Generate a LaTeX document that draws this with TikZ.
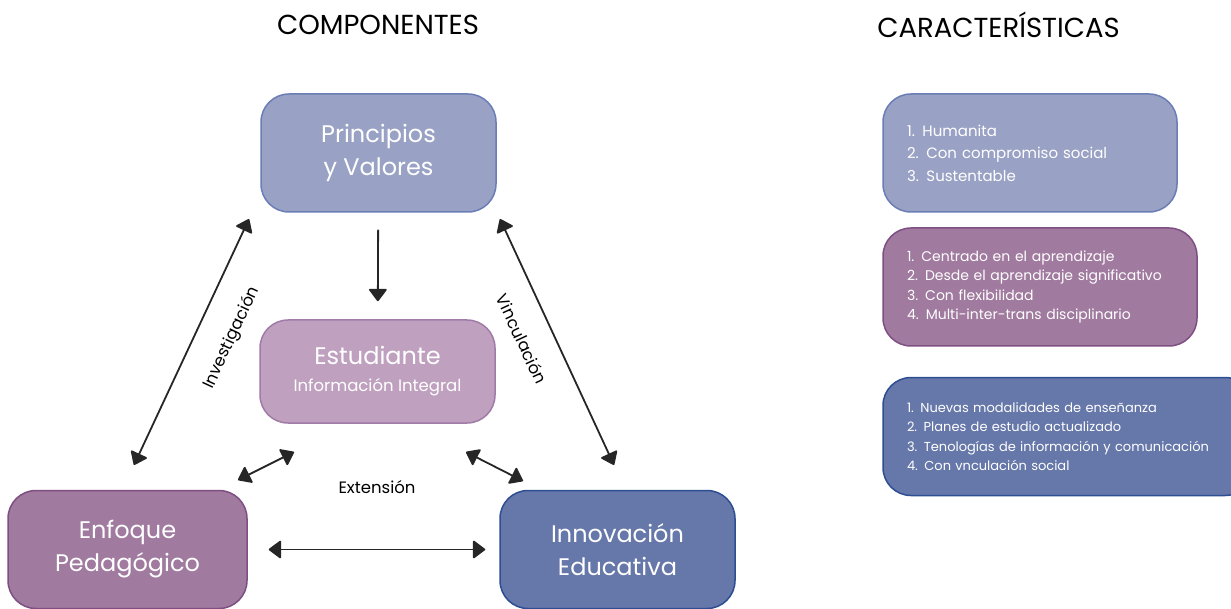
\documentclass[tikz,border=0pt]{standalone}
\usepackage{fontspec}
\setmainfont{Poppins}
\usetikzlibrary{arrows.meta}
\definecolor{azulclaro}{HTML}{99A2C5}
\definecolor{azulborde}{HTML}{6B7DB5}
\definecolor{rosa}{HTML}{BFA1BF}
\definecolor{rosaborde}{HTML}{A07BA8}
\definecolor{morado}{HTML}{A07A9F}
\definecolor{moradoborde}{HTML}{7E4F83}
\definecolor{azul}{HTML}{6677A9}
\definecolor{azulfuerte}{HTML}{2D4E92}

\begin{document}
\begin{tikzpicture}[x=1pt,y=-1pt,
  comp/.style={draw,line width=1.5pt,rounded corners=28pt,text=white,align=center,
    minimum width=235pt,minimum height=118pt,font=\fontsize{24}{33}\selectfont},
  carac/.style={draw,line width=1.5pt,rounded corners=28pt,text=white,align=left,
    inner xsep=24pt,minimum height=118pt},
  punta/.tip={Triangle[length=13pt,width=19pt,round]},
  flecha/.style={line width=1.8pt,-punta,color=black!85},
  doble/.style={line width=1.8pt,punta-punta,color=black!85},
  titulo/.style={font=\fontsize{27.5}{30}\selectfont},
  etiqueta/.style={font=\fontsize{16.5}{18}\selectfont}]
\useasboundingbox (0,0) rectangle (1231,609);

% titulos
\draw (378,25) node[titulo](tcomp) {COMPONENTES};
\draw (998.5,25) node[titulo](tcarac) {CARACTERÍSTICAS};

% componentes
\draw (378.5,153) node[comp,fill=azulclaro,draw=azulborde](pv) {Principios\\y Valores};
\draw (377.5,371.5) node[comp,fill=rosa,draw=rosaborde,minimum height=103pt](est)
  {Estudiante\\[-6pt]{\fontsize{16.5}{22}\selectfont Información Integral}};
\draw (127.5,549.5) node[comp,fill=morado,draw=moradoborde,minimum width=239pt](enf) {Enfoque\\Pedagógico};
\draw (617.5,549.5) node[comp,fill=azul,draw=azulfuerte](inn) {Innovación\\Educativa};

% caracteristicas
\draw (1030,153) node[carac,fill=azulclaro,draw=azulborde,text width=246pt,
  font=\fontsize{15}{22.5}\selectfont](c1)
  {1. Humanita\\2. Con compromiso social\\3. Sustentable};
\draw (1040,287) node[carac,fill=morado,draw=moradoborde,text width=266pt,
  font=\fontsize{14}{19.5}\selectfont](c2)
  {1. Centrado en el aprendizaje\\2. Desde el aprendizaje significativo\\3. Con flexibilidad\\4. Multi-inter-trans disciplinario};
\draw (1068,436.5) node[carac,fill=azul,draw=azulfuerte,text width=322pt,
  font=\fontsize{13}{19.5}\selectfont](c3)
  {1. Nuevas modalidades de enseñanza\\2. Planes de estudio actualizado\\3. Tenologías de información y comunicación\\4. Con vnculación social};

% extremos de flechas
\coordinate (inv1) at (249,219);
\coordinate (inv2) at (134,465);
\coordinate (vin1) at (500,219);
\coordinate (vin2) at (614,465);
\coordinate (ext1) at (294,452);
\coordinate (ext2) at (238,480);
\coordinate (ext3) at (466,452);
\coordinate (ext4) at (523,481);

\draw[flecha,shorten <=17pt,shorten >=18pt] (pv) -- (est);
\draw[doble] (inv1) -- (inv2);
\draw[doble] (vin1) -- (vin2);
\draw[doble] (ext1) -- (ext2);
\draw[doble] (ext3) -- (ext4);
\draw[doble,shorten <=21pt,shorten >=14pt] (enf.east) -- (inn.west);

% etiquetas
\draw (232,338) node[etiqueta,rotate=65](linv) {Investigación};
\draw (522,339) node[etiqueta,rotate=-65](lvin) {Vinculación};
\draw (377,487) node[etiqueta](lext) {Extensión};
\end{tikzpicture}
\end{document}
